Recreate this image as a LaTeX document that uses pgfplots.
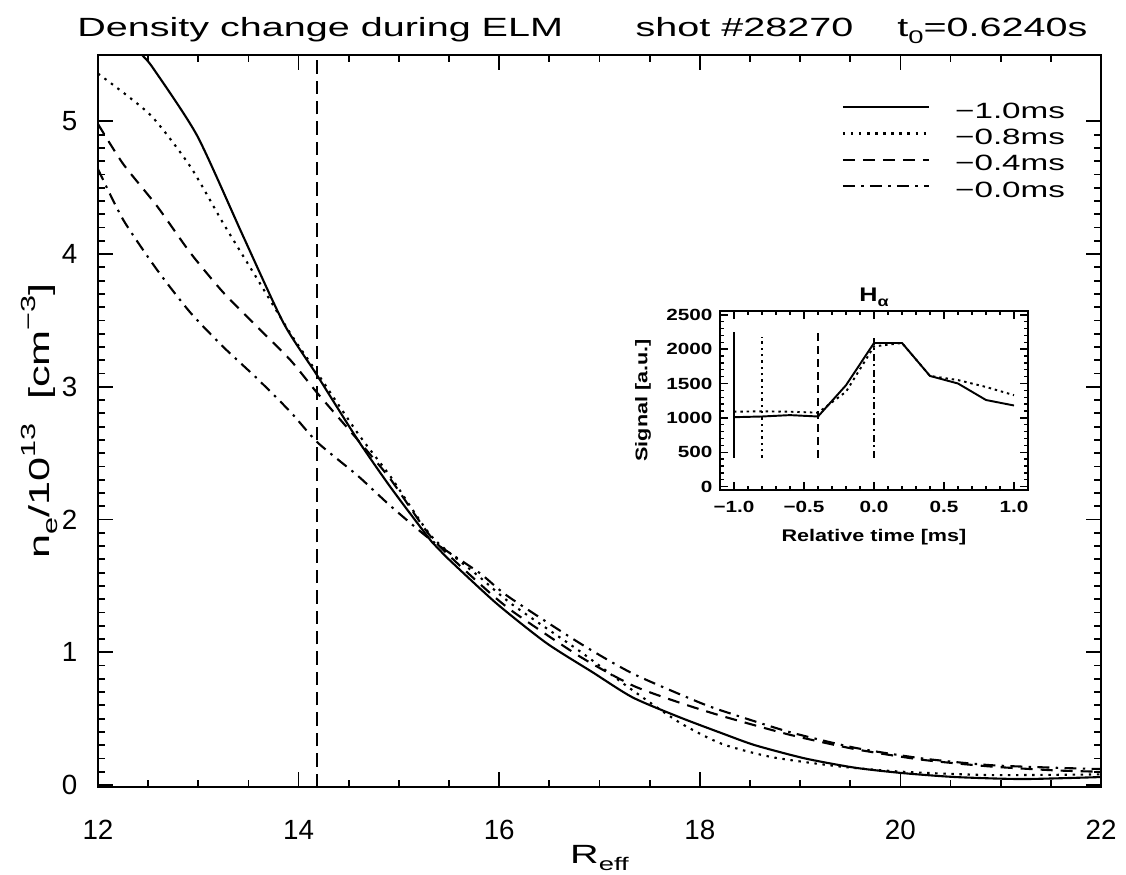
\documentclass[border=0pt]{standalone}
\usepackage{fontspec}
\setmainfont{Liberation Sans}
\newfontfamily\widefont[FakeStretch=1.5]{Liberation Sans}
\newfontfamily\insetfont[FakeStretch=1.28]{Liberation Sans}
\usepackage{pgfplots}
\pgfplotsset{compat=1.18}

% line styles used in both panels
\tikzset{
  dotline/.style={dash pattern=on 0.7pt off 1.6pt},
  dashline/.style={dash pattern=on 3.4pt off 2.3pt},
  dashdotline/.style={dash pattern=on 3.4pt off 1.8pt on 0.7pt off 1.8pt},
}

\begin{document}
\begin{tikzpicture}
\path[use as bounding box] (-0.98,-0.87) rectangle (10.28,7.87);

\begin{axis}[
  at={(0,0)}, anchor=south west, scale only axis,
  width=10.03cm, height=7.32cm,
  xmin=12, xmax=22, ymin=-0.015, ymax=5.5,
  xtick={12,14,...,22}, ytick={0,1,...,5},
  minor x tick num=3, minor y tick num=9,
  major tick length=0.15cm, minor tick length=0.075cm,
  tick align=inside,
  tick style={black, line width=0.5pt},
  axis line style={line width=0.7pt},
  /pgf/number format/assume math mode=true,
  ticklabel style={font=\fontsize{7.9}{9}\selectfont},
  xticklabel style={anchor=center, yshift=-0.43cm},
  yticklabel style={anchor=east, inner sep=0pt, xshift=-0.2cm},
  xlabel={\fontsize{7.5}{9}\widefont R\raisebox{-0.55ex}{\fontsize{5.2}{6}\selectfont eff}},
  xlabel style={at={(axis description cs:0.5,-0.097)}, anchor=center},
  ylabel={\fontsize{8.2}{9}\widefont n\raisebox{-0.55ex}{\fontsize{5.8}{6}\selectfont e}/10\raisebox{0.9ex}{\fontsize{5.8}{6}\selectfont 13}\ \ [cm\raisebox{0.9ex}{\fontsize{5.8}{6}\selectfont −3}]},
  ylabel style={at={(axis description cs:-0.058,0.5)}, anchor=center},
  legend cell align=left,
  legend image code/.code={\draw[#1, line width=0.6pt] (0cm,0.05cm) -- (0.866cm,0.05cm);},
  legend style={draw=none, fill=none, inner sep=0pt, outer sep=0pt,
    at={(axis description cs:0.7415,0.9396)}, anchor=north west,
    font=\fontsize{6.3}{7}\widefont, row sep=0pt,
    nodes={inner sep=0pt, text height=5.5pt, text depth=1.95pt},
    /tikz/every odd column/.append style={column sep=0.247cm}},
]
\addplot[black, line width=0.6pt, smooth, tension=0.4] coordinates {
  (12.40,5.55) (12.44,5.50) (12.55,5.40) (12.99,4.89) (13.45,4.13) (13.85,3.48)
  (14.19,3.08) (14.59,2.60) (14.92,2.24) (15.33,1.83) (15.47,1.72) (15.97,1.37)
  (16.47,1.07) (16.93,0.85) (17.33,0.66) (17.80,0.51) (18.22,0.39) (18.55,0.30)
  (19.05,0.20) (19.55,0.13) (20.02,0.09) (20.55,0.06) (21.22,0.045) (22.0,0.06)
};
\addlegendentry{−1.0ms}
\addplot[black, line width=0.6pt, dotline, smooth, tension=0.4] coordinates {
  (12.0,5.36) (12.52,5.05) (12.92,4.66) (13.25,4.23) (13.59,3.81) (13.92,3.40)
  (14.19,3.10) (14.59,2.65) (14.92,2.32) (15.33,1.87) (15.8,1.57) (16.13,1.36)
  (16.8,1.01) (17.3,0.73) (17.8,0.47) (18.22,0.31) (18.72,0.21) (19.39,0.14)
  (20.02,0.10) (20.89,0.075) (22.0,0.08)
};
\addlegendentry{−0.8ms}
\addplot[black, line width=0.6pt, dashline, smooth, tension=0.4] coordinates {
  (12.0,4.98) (12.25,4.68) (12.59,4.36) (12.92,4.01) (13.25,3.71) (13.59,3.45)
  (13.92,3.20) (14.19,2.95) (14.59,2.60) (14.92,2.30) (15.33,1.86) (15.8,1.52)
  (16.13,1.31) (16.8,0.97) (17.33,0.75) (17.8,0.62) (18.22,0.52) (18.89,0.38)
  (19.55,0.27) (20.22,0.19) (20.89,0.14) (21.55,0.11) (22.0,0.10)
};
\addlegendentry{−0.4ms}
\addplot[black, line width=0.6pt, dashdotline, smooth, tension=0.4] coordinates {
  (12.0,4.64) (12.25,4.26) (12.59,3.88) (12.92,3.56) (13.25,3.30) (13.59,3.06)
  (13.92,2.81) (14.19,2.58) (14.59,2.33) (14.92,2.10) (15.33,1.84) (15.8,1.60)
  (16.09,1.42) (16.8,1.07) (17.33,0.84) (17.97,0.63) (18.22,0.56) (18.89,0.40)
  (19.55,0.28) (20.22,0.20) (20.89,0.15) (21.55,0.13) (22.0,0.12)
};
\addlegendentry{−0.0ms}
\addplot[black, line width=0.6pt, dash pattern=on 3.8pt off 2pt, forget plot]
  coordinates {(14.18,-0.015) (14.18,5.5)};
\end{axis}

\begin{axis}[
  at={(6.22cm,2.97cm)}, anchor=south west, scale only axis,
  width=3.08cm, height=1.793cm,
  xmin=-1.1, xmax=1.1, ymin=-50, ymax=2560,
  xtick={-1,-0.5,0,0.5,1}, xticklabels={−1.0,−0.5,0.0,0.5,1.0},
  ytick={0,500,...,2500}, yticklabels={0,500,1000,1500,2000,2500},
  minor x tick num=4, minor y tick num=4,
  major tick length=0.08cm, minor tick length=0.04cm,
  tick align=inside,
  tick style={black, line width=0.4pt},
  axis line style={line width=0.6pt},
  ticklabel style={font=\fontsize{4.6}{5}\insetfont\bfseries},
  xticklabel style={anchor=center, yshift=-0.17cm},
  yticklabel style={anchor=east, inner sep=0pt, xshift=-0.07cm},
  xlabel={Relative time [ms]},
  ylabel={Signal [a.u.]},
  label style={font=\fontsize{4.8}{5}\insetfont\bfseries},
  xlabel style={at={(axis description cs:0.5,-0.262)}, anchor=center},
  ylabel style={at={(axis description cs:-0.25,0.5)}, anchor=center},
  title={H\raisebox{-0.45ex}{\fontsize{4}{4}\selectfont α}},
  title style={at={(axis description cs:0.5,1)}, anchor=base, yshift=-0.12cm,
    inner sep=0pt, font=\fontsize{5.6}{6}\insetfont\bfseries},
]
\addplot[black, line width=0.55pt] coordinates {
  (-1.0,1010) (-0.8,1020) (-0.6,1040) (-0.4,1020) (-0.2,1475) (0.0,2090)
  (0.2,2090) (0.4,1610) (0.6,1500) (0.8,1260) (1.0,1180)
};
\addplot[black, line width=0.55pt, dash pattern=on 0.7pt off 1.1pt] coordinates {
  (-1.0,1090) (-0.8,1095) (-0.6,1090) (-0.4,1075) (-0.2,1380) (0.0,2040)
  (0.2,2090) (0.4,1610) (0.6,1550) (0.8,1450) (1.0,1330)
};
\addplot[black, line width=0.55pt] coordinates {(-1.0,420) (-1.0,2250)};
\addplot[black, line width=0.55pt, dash pattern=on 0.7pt off 1.1pt] coordinates {(-0.8,420) (-0.8,2170)};
\addplot[black, line width=0.55pt, dash pattern=on 2.3pt off 1.4pt] coordinates {(-0.4,420) (-0.4,2250)};
\addplot[black, line width=0.55pt, dash pattern=on 2pt off 1pt on 0.6pt off 1pt] coordinates {(0.0,420) (0.0,2220)};
\end{axis}

\node[anchor=base west, inner sep=0pt] at (-0.213,7.50)
  {\fontsize{7.5}{9}\widefont Density change during ELM};
\node[anchor=base west, inner sep=0pt] at (5.37,7.50)
  {\fontsize{7.5}{9}\widefont shot \#28270};
\node[anchor=base west, inner sep=0pt] at (7.987,7.50)
  {\fontsize{7.5}{9}\widefont t\raisebox{-0.5ex}{\fontsize{5.2}{6}\selectfont 0}=0.6240s};
\end{tikzpicture}
\end{document}
